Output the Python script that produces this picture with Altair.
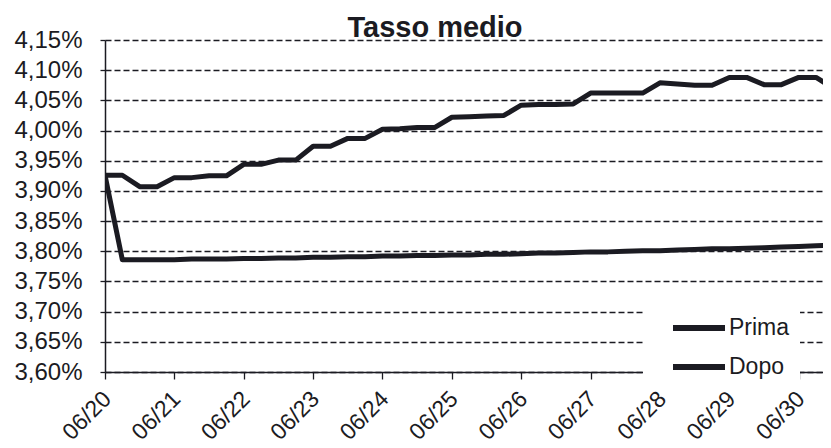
import json
import altair as alt
import pandas as pd

days = ["06/20", "06/21", "06/22", "06/23", "06/24", "06/25",
        "06/26", "06/27", "06/28", "06/29", "06/30"]
y_ticks = [3.60, 3.65, 3.70, 3.75, 3.80, 3.85, 3.90, 3.95, 4.00, 4.05, 4.10, 4.15]
series_names = ["Prima", "Dopo"]
steps_per_day = 4

prima = [3.926, 3.926, 3.907, 3.907, 3.922, 3.922, 3.925, 3.925, 3.944, 3.944,
         3.951, 3.951, 3.974, 3.974, 3.987, 3.987, 4.002, 4.003, 4.005, 4.005,
         4.022, 4.023, 4.024, 4.025, 4.042, 4.043, 4.043, 4.044, 4.062, 4.062,
         4.062, 4.062, 4.079, 4.077, 4.075, 4.075, 4.088, 4.088, 4.076, 4.076,
         4.088, 4.088, 4.070]
dopo = [3.926, 3.786, 3.786, 3.786, 3.786, 3.787, 3.787, 3.787, 3.788, 3.788,
        3.789, 3.789, 3.790, 3.790, 3.791, 3.791, 3.792, 3.792, 3.793, 3.793,
        3.794, 3.794, 3.795, 3.795, 3.796, 3.797, 3.797, 3.798, 3.799, 3.799,
        3.800, 3.801, 3.801, 3.802, 3.803, 3.804, 3.804, 3.805, 3.806, 3.807,
        3.808, 3.809, 3.810]

rows = []
for name, vals in zip(series_names, [prima, dopo]):
    for i, v in enumerate(vals):
        rows.append({"serie": name, "giorno": i / steps_per_day, "tasso": v})
df = pd.DataFrame(rows)

FONT = "Liberation Sans"
INK = "#1b1b22"

x_label_expr = json.dumps(days) + "[datum.value]"
y_label_expr = "replace(format(datum.value, '.2f'), '.', ',') + '%'"

chart = alt.Chart(df).mark_line(strokeWidth=5, clip=True, strokeJoin="round").encode(
    x=alt.X(
        "giorno:Q",
        scale=alt.Scale(domain=[0, 10.35], nice=False, zero=False),
        axis=alt.Axis(
            title=None, values=list(range(len(days))), labelExpr=x_label_expr,
            labelAngle=315, labelAlign="right", labelBaseline="middle",
            labelFont=FONT, labelFontSize=23, labelColor=INK, labelPadding=16,
            labelOffset=2,
            labelOverlap=False, labelBound=False, labelFlush=False,
            grid=False, ticks=True, tickSize=7, tickColor=INK, tickWidth=1.3,
            domainColor=INK, domainWidth=1.5,
        ),
    ),
    y=alt.Y(
        "tasso:Q",
        scale=alt.Scale(domain=[3.60, 4.15], nice=False, zero=False),
        axis=alt.Axis(
            title=None, values=y_ticks, labelExpr=y_label_expr,
            labelFont=FONT, labelFontSize=24, labelColor=INK, labelPadding=18,
            labelOverlap=False, labelFlush=False,
            ticks=True, tickSize=5, tickColor=INK, tickWidth=1.3,
            domainColor=INK, domainWidth=1.5,
            grid=True, gridColor=INK, gridWidth=1.4, gridDash=[6, 3], gridOpacity=1,
        ),
    ),
    color=alt.Color(
        "serie:N",
        scale=alt.Scale(domain=series_names, range=[INK, INK]),
        legend=alt.Legend(
            # an invisible (no-break space) side title widens the white box to the right
            title="\u00a0", titleOrient="right", titlePadding=7, titleFontSize=20,
            orient="none", legendX=538, legendY=267,
            fillColor="white", padding=4, rowPadding=5, clipHeight=34,
            symbolType="stroke", symbolSize=2704, symbolStrokeWidth=6,
            symbolOffset=23,
            labelFont=FONT, labelFontSize=23, labelColor=INK, labelOffset=1,
        ),
    ),
).properties(
    width=718,
    height=332,
    autosize=alt.AutoSizeParams(type="none"),
    padding={"left": 97, "top": 32, "right": 0, "bottom": 68},
    title=alt.TitleParams(
        "Tasso medio", font=FONT, fontSize=29, fontWeight="bold", color=INK,
        anchor="middle", frame="group", baseline="alphabetic", offset=6,
        dx=-29, dy=44,
    ),
).configure_view(stroke=None)

chart.save("out.html", embed_options={"renderer": "svg", "actions": False})
